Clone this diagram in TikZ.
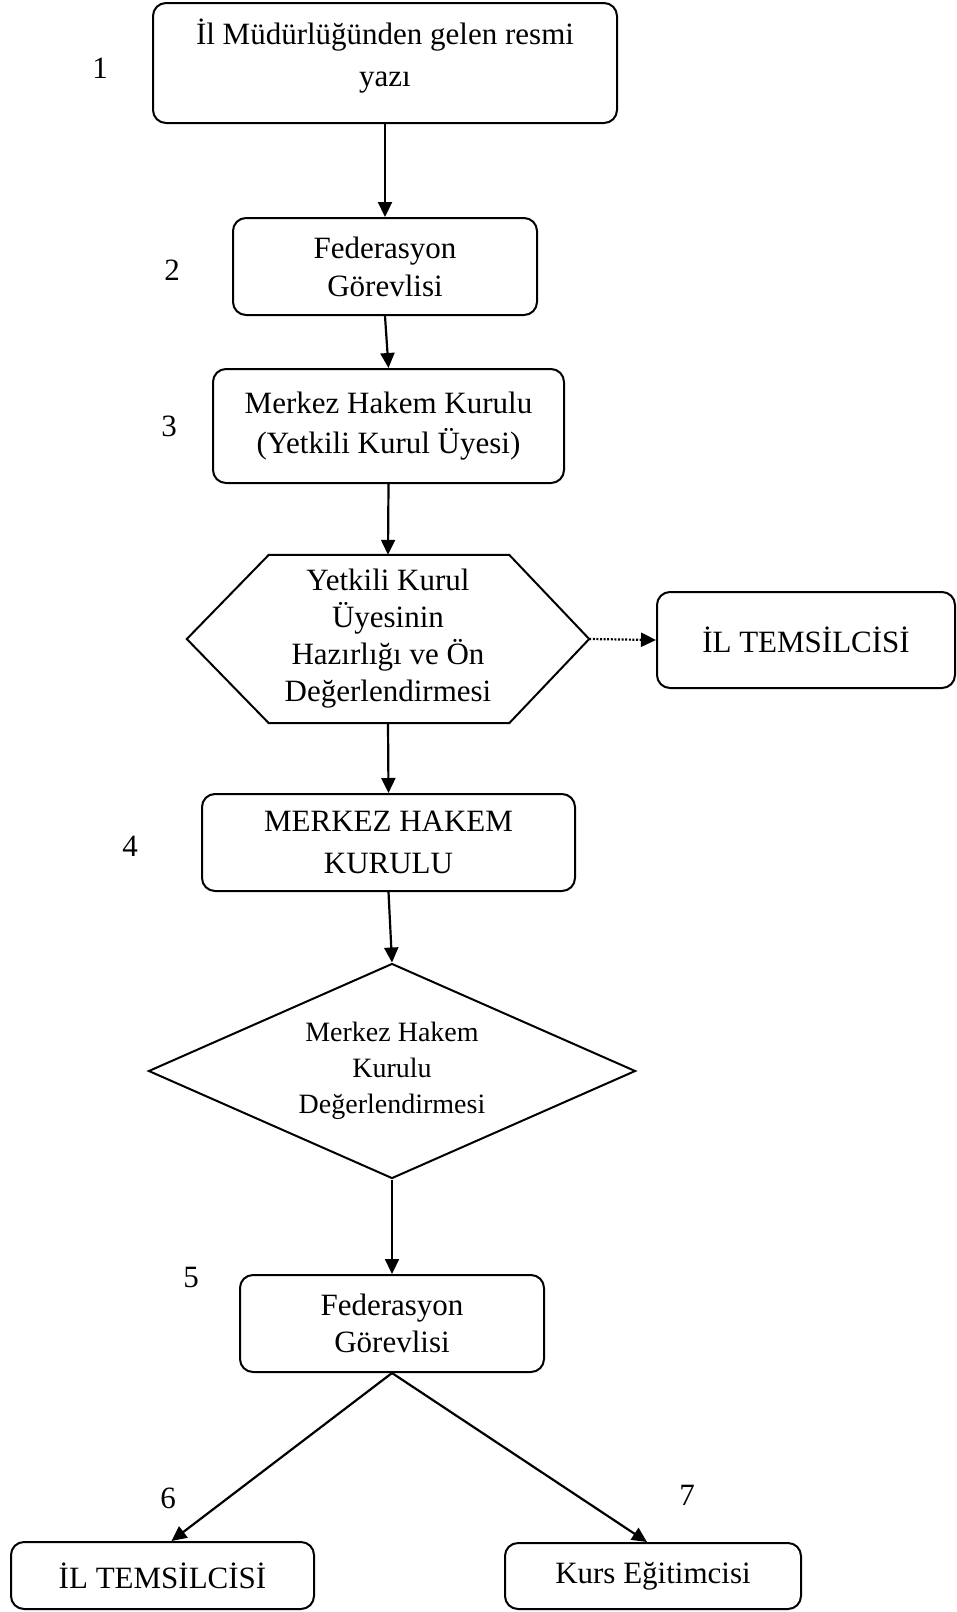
\documentclass[tikz,border=0pt]{standalone}
\usepackage{fontspec}
\setmainfont{Liberation Serif}
\usetikzlibrary{arrows.meta,shapes.geometric,calc}
\begin{document}
\begin{tikzpicture}[x=1pt,y=-1pt,
  box/.style={draw,line width=2pt,rounded corners=13pt,inner sep=0pt,align=center,font=\fontsize{31}{38}\selectfont},
  txt/.style={inner sep=0pt,align=center,font=\fontsize{31}{42}\selectfont},
  lbl/.style={inner sep=0pt,font=\fontsize{31}{38}\selectfont},
  arr/.style={line width=2.2pt,-{Triangle[length=15pt,width=14pt]}},
  darr/.style={line width=2.2pt,dash pattern=on 2pt off 1.6pt,-{Triangle[length=15pt,width=14pt]}},
]
\useasboundingbox (0,0) rectangle (957,1612);
% boxes
\node[box,minimum width=464pt,minimum height=120pt] (b1) at (385,63) {};
\node[txt] (t1) at (385,56) {İl Müdürlüğünden gelen resmi\\yazı};
\node[box,minimum width=304pt,minimum height=97pt] (b2) at (385,266.5) {Federasyon\\Görevlisi};
\node[box,minimum width=351pt,minimum height=114pt,font=\fontsize{31}{40}\selectfont] (b3) at (388.5,426) {Merkez Hakem Kurulu\\(Yetkili Kurul Üyesi)};
% hexagon
\node[inner sep=0pt,minimum width=402pt,minimum height=168pt,align=center,font=\fontsize{31}{37}\selectfont] (hx) at (388,639) {Yetkili Kurul\\Üyesinin\\Hazırlığı ve Ön\\Değerlendirmesi};
\draw[line width=2pt,line join=miter] (hx.west) -- ([xshift=82pt]hx.north west) -- ([xshift=-80pt]hx.north east) -- (hx.east) -- ([xshift=-80pt]hx.south east) -- ([xshift=82pt]hx.south west) -- cycle;
\node[box,minimum width=298pt,minimum height=96pt] (il) at (806,640) {İL TEMSİLCİSİ};
\node[box,minimum width=373pt,minimum height=97pt,font=\fontsize{31}{42}\selectfont] (b4) at (388.5,842.5) {MERKEZ HAKEM\\KURULU};
% diamond
\node[diamond,draw,line width=2pt,aspect=2.265,minimum width=487pt,minimum height=215pt,inner sep=0pt,align=center,font=\fontsize{28}{36}\selectfont] (dm) at (392,1071) {Merkez Hakem\\Kurulu\\Değerlendirmesi};
\node[box,minimum width=304pt,minimum height=97pt,font=\fontsize{31}{37}\selectfont] (b5) at (392,1323.5) {Federasyon\\Görevlisi};
\node[box,minimum width=303pt,minimum height=67pt] (bl) at (162.5,1575.5) {İL TEMSİLCİSİ};
\node[box,minimum width=296pt,minimum height=66pt] (br) at (653,1576) {Kurs Eğitimcisi};
% numbers
\node[lbl] (n1) at (100,68) {1};
\node[lbl] (n2) at (172,270) {2};
\node[lbl] (n3) at (169,426) {3};
\node[lbl] (n4) at (130,846) {4};
\node[lbl] (n5) at (191,1277) {5};
\node[lbl] (n6) at (168,1498) {6};
\node[lbl] (n7) at (687,1495) {7};
% connectors
\draw[arr] (b1.south) -- (b2.north);
\draw[arr] (b2.south) -- (b3.north);
\draw[arr] (b3.south) -- (hx.north);
\draw[darr] (hx.east) -- (il.west);
\draw[arr] (hx.south) -- (b4.north);
\draw[arr] (b4.south) -- (dm.north);
\draw[arr] (dm.south) -- (b5.north);
\draw[arr] (b5.south) -- ([xshift=9pt]bl.north);
\draw[arr] (b5.south) -- ([xshift=-6pt]br.north);
\end{tikzpicture}
\end{document}
